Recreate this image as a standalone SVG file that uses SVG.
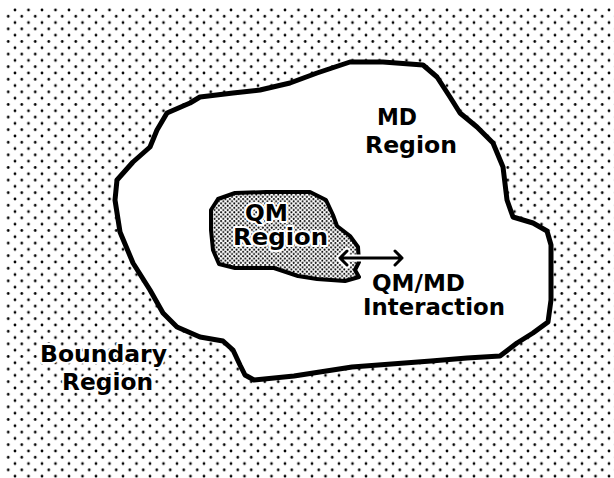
<svg xmlns="http://www.w3.org/2000/svg" width="614" height="478" viewBox="0 0 614 478">
<style>
.lbl{font-family:"DejaVu Sans","Liberation Sans",Arial,sans-serif;font-weight:bold;font-size:23px;fill:#000}
.halo{stroke:#fff;stroke-width:4px;stroke-linejoin:round;paint-order:stroke}
.edge{fill:none;stroke:#000;stroke-width:3;stroke-linecap:round;stroke-linejoin:round}
.edge-bg{fill:none;stroke:#fff;stroke-width:7;stroke-linecap:round;stroke-linejoin:round}
</style>
<defs>
<pattern id="dots" patternUnits="userSpaceOnUse" x="15" y="10" width="13.5" height="12.6">
<circle cx="0" cy="0" r="1.35" fill="#000"/><circle cx="13.5" cy="0" r="1.35" fill="#000"/>
<circle cx="0" cy="12.6" r="1.35" fill="#000"/><circle cx="13.5" cy="12.6" r="1.35" fill="#000"/>
<circle cx="6.75" cy="6.3" r="1.35" fill="#000"/>
</pattern>
<pattern id="fine" patternUnits="userSpaceOnUse" width="4.4" height="4.4">
<rect width="4.4" height="4.4" fill="#fff"/>
<circle cx="1.1" cy="1.1" r="1" fill="#000"/><circle cx="3.3" cy="3.3" r="1" fill="#000"/>
</pattern>
</defs>
<rect width="614" height="478" fill="#fff"/>
<g id="boundary-region">
<rect x="6" y="6" width="608" height="472" fill="url(#dots)"/>
</g>
<g id="md-region">
<path d="M115,200 L117,180 L133,162 L150,147 L157,130 L167,113 L190,103 L200,97 L233,93 L260,90 L290,83 L317,73 L350,62 L383,62 L423,65 L437,77 L450,97 L460,113 L477,127 L493,143 L503,167 L507,200 L513,217 L533,223 L547,231 L551,245 L551,300 L548,322 L533,333 L517,343 L500,356 L467,358 L431,361 L352,367 L294,376 L254,380 L245,375 L240,365 L233,350 L223,341 L200,337 L177,327 L163,313 L150,290 L133,263 L120,232 Z" fill="#fff" stroke="#000" stroke-width="5" stroke-linejoin="round"/>
</g>
<g id="qm-region">
<path d="M211,210 L218,199 L235,193 L266,192 L310,192 L326,200 L333,215 L337,226 L350,236 L358,247 L359,262 L355,270 L359,277 L345,281 L317,279 L298,276 L274,268 L235,268 L219,264 L213,250 L211,230 Z" fill="url(#fine)" stroke="#000" stroke-width="4" stroke-linejoin="round"/>
</g>
<g id="connectors">
<path class="edge-bg" d="M340,258 L402,258 M395,251 L402,258 L395,265 M347,251 L340,258 L347,265"/>
<path class="edge" d="M340,258 L402,258 M395,251 L402,258 L395,265 M347,251 L340,258 L347,265"/>
</g>
<g id="labels">
<text class="lbl" x="377" y="125" textLength="40" lengthAdjust="spacingAndGlyphs">MD</text>
<text class="lbl" x="365" y="153" textLength="92" lengthAdjust="spacingAndGlyphs">Region</text>
<text class="lbl halo" x="245" y="221" textLength="43" lengthAdjust="spacingAndGlyphs">QM</text>
<text class="lbl halo" x="233" y="245" textLength="95" lengthAdjust="spacingAndGlyphs">Region</text>
<text class="lbl" x="372" y="291" textLength="93" lengthAdjust="spacingAndGlyphs">QM/MD</text>
<text class="lbl" x="363" y="315" textLength="142" lengthAdjust="spacingAndGlyphs">Interaction</text>
<text class="lbl halo" x="40" y="362" textLength="127" lengthAdjust="spacingAndGlyphs">Boundary</text>
<text class="lbl halo" x="62" y="390" textLength="91" lengthAdjust="spacingAndGlyphs">Region</text>
</g>
</svg>
